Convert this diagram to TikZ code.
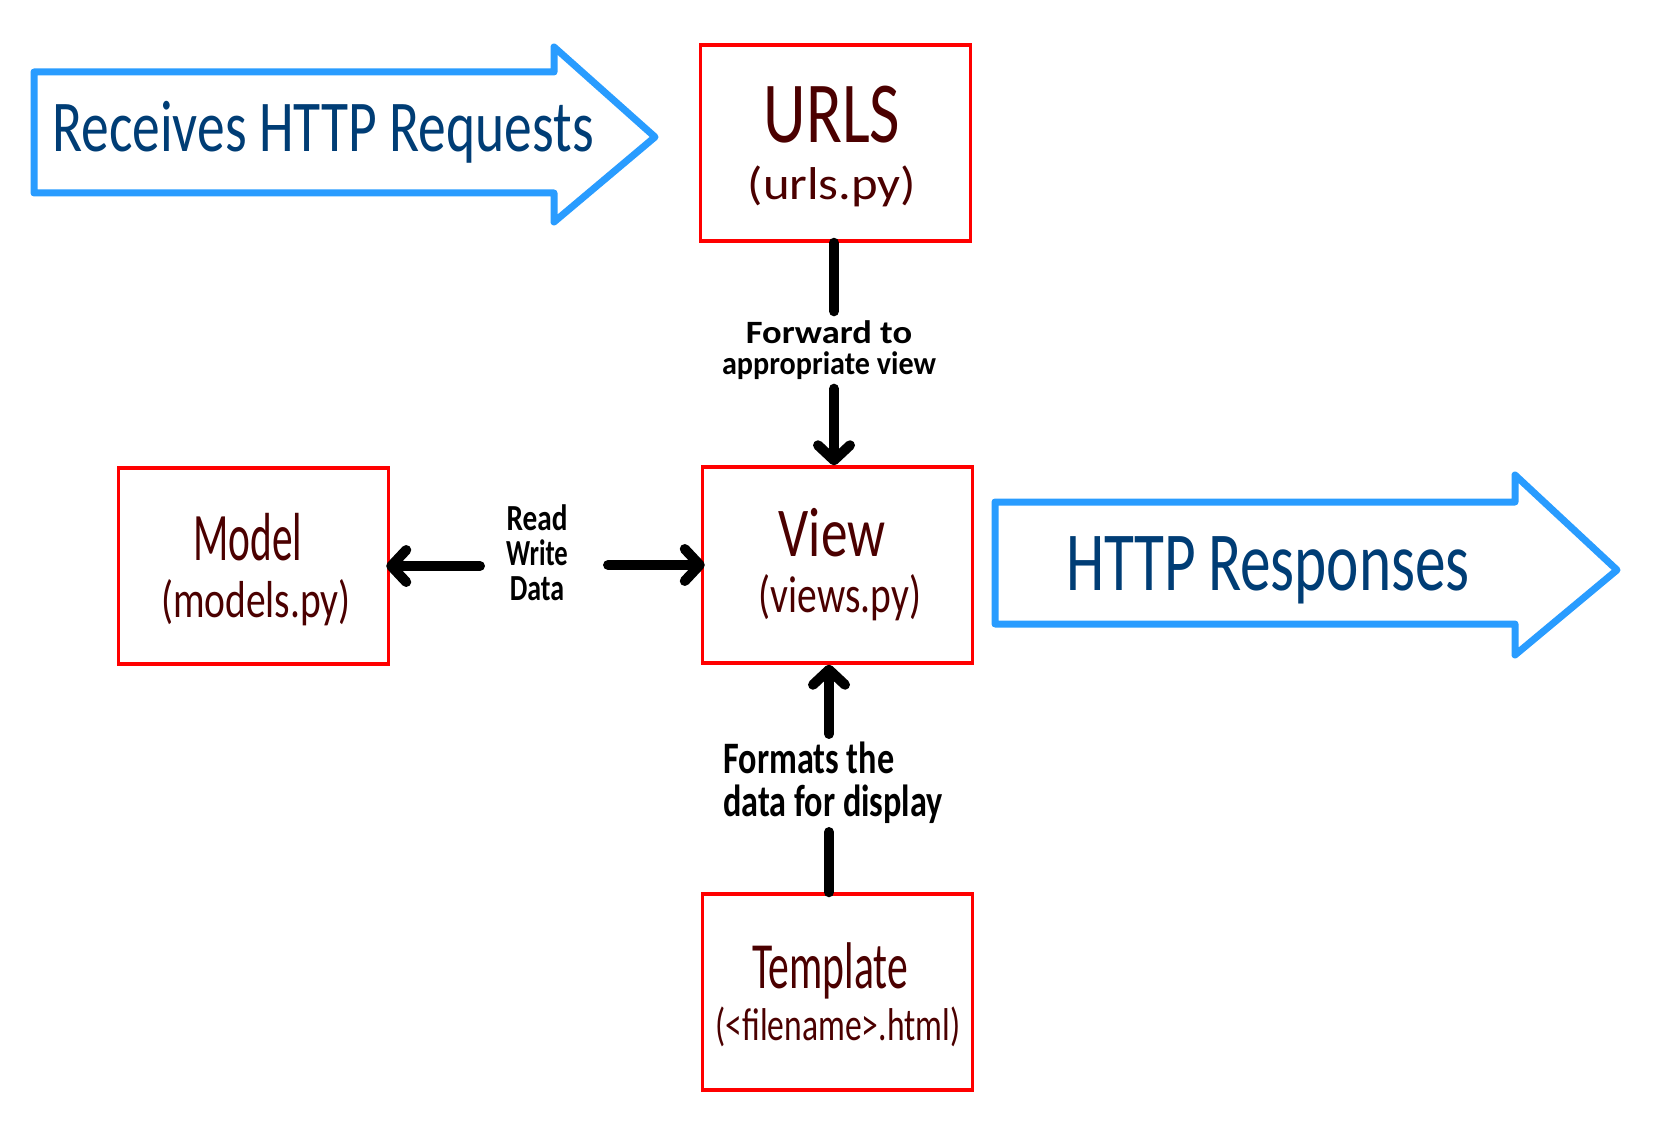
\documentclass[tikz,border=0pt]{standalone}
\usepackage{fontspec}
\newfontfamily\hand[FakeStretch=0.76]{Carlito}
\usetikzlibrary{arrows.meta}
\definecolor{skyblue}{RGB}{41,156,255}
\definecolor{navytext}{RGB}{0,61,117}
\definecolor{maroontext}{RGB}{75,0,0}
\definecolor{boxred}{RGB}{255,0,0}
\tikzset{
  box/.style={draw=boxred, line width=3.5pt, rectangle, minimum width=270pt, minimum height=196pt, inner sep=0pt},
  bluearrow/.style={draw=skyblue, line width=7pt, line join=round, line cap=round, fill=white},
  bigtxt/.style={text=navytext, anchor=base, inner sep=0pt, font=\hand},
  boxtxt/.style={text=maroontext, anchor=base, inner sep=0pt, font=\hand},
  lbl/.style={text=black, inner sep=0pt, font=\hand\bfseries},
  conn/.style={line width=10pt, line cap=round},
  flow/.style={conn, -{Straight Barb[length=15pt,width=32pt,round]}},
}
\begin{document}
\begin{tikzpicture}[x=1pt,y=-1pt]
\useasboundingbox (0,0) rectangle (1657,1131);
% incoming arrow
\draw[bluearrow] (34,72) -- (554,72) -- (554,47) -- (655,137) -- (554,222) -- (554,193) -- (34,193) -- cycle;
\node[bigtxt, font=\hand\fontsize{73}{73}\selectfont] (reqT) at (323,152) {Receives HTTP Requests};
% outgoing arrow
\draw[bluearrow] (995,502) -- (1515,502) -- (1515,475) -- (1617,570) -- (1515,655) -- (1515,624) -- (995,624) -- cycle;
\node[bigtxt, font=\hand\fontsize{84}{84}\selectfont] (resT) at (1268,590) {\scalebox{0.96}[1]{HTTP\hspace{12pt}Responses}};
% boxes
\node[box] (urls) at (835.5,143) {};
\node[box] (view) at (837.5,565) {};
\node[box] (model) at (253.5,566) {};
\node[box] (tmpl) at (837.5,992) {};
% box texts
\node[boxtxt, font=\hand\fontsize{87}{87}\selectfont] (urlsA) at (832,143) {URLS};
\node[boxtxt, font=\hand\fontsize{46}{46}\selectfont] (urlsB) at (832,200) {\scalebox{1.45}[1]{(urls.py)}};
\node[boxtxt, font=\hand\fontsize{70}{70}\selectfont] (viewA) at (832,556) {View};
\node[boxtxt, font=\hand\fontsize{52}{52}\selectfont] (viewB) at (840,612) {(views.py)};
\node[boxtxt, font=\hand\fontsize{68}{68}\selectfont] (modelA) at (248,560) {\scalebox{0.8}[1]{Model}};
\node[boxtxt, font=\hand\fontsize{52}{52}\selectfont] (modelB) at (256,617) {(models.py)};
\node[boxtxt, font=\hand\fontsize{66}{66}\selectfont] (tmplA) at (830,988) {\scalebox{0.83}[1]{Template}};
\node[boxtxt, font=\hand\fontsize{46}{46}\selectfont] (tmplB) at (838,1040) {\scalebox{0.96}[1]{(<filename>.html)}};
% labels
\node[lbl, font=\hand\bfseries\fontsize{31}{31}\selectfont, align=center, inner ysep=9pt] (fwd) at (829,350) {\scalebox{1.55}[1.05]{Forward to}\\\scalebox{1.28}[1.05]{appropriate view}};
\node[lbl, font=\hand\bfseries\fontsize{35}{35}\selectfont, align=center] (rwd) at (537,553) {\scalebox{1.1}[1.05]{Read}\\\scalebox{1.0}[1.05]{Write}\\\scalebox{1.05}[1.05]{Data}};
\node[lbl, font=\hand\bfseries\fontsize{45}{43}\selectfont, align=left, inner ysep=8pt] (fmt) at (833,783) {Formats the\\data for display};
\coordinate (bx) at (829,0);
% connectors
\draw[conn] (urls.south -| 834,0) -- (fwd.north -| 834,0);
\draw[flow] (fwd.south -| 834,0) -- (view.north -| 834,0);
\draw[flow, shorten <=26pt, shorten >=-4pt] (rwd.west |- model.east) -- (model.east);
\draw[flow, shorten <=40pt, shorten >=-4pt] (rwd.east |- view.west) -- (view.west);
\draw[conn] (tmpl.north -| bx) -- (fmt.south -| bx);
\draw[flow] (fmt.north -| bx) -- (view.south -| bx);
\end{tikzpicture}
\end{document}
